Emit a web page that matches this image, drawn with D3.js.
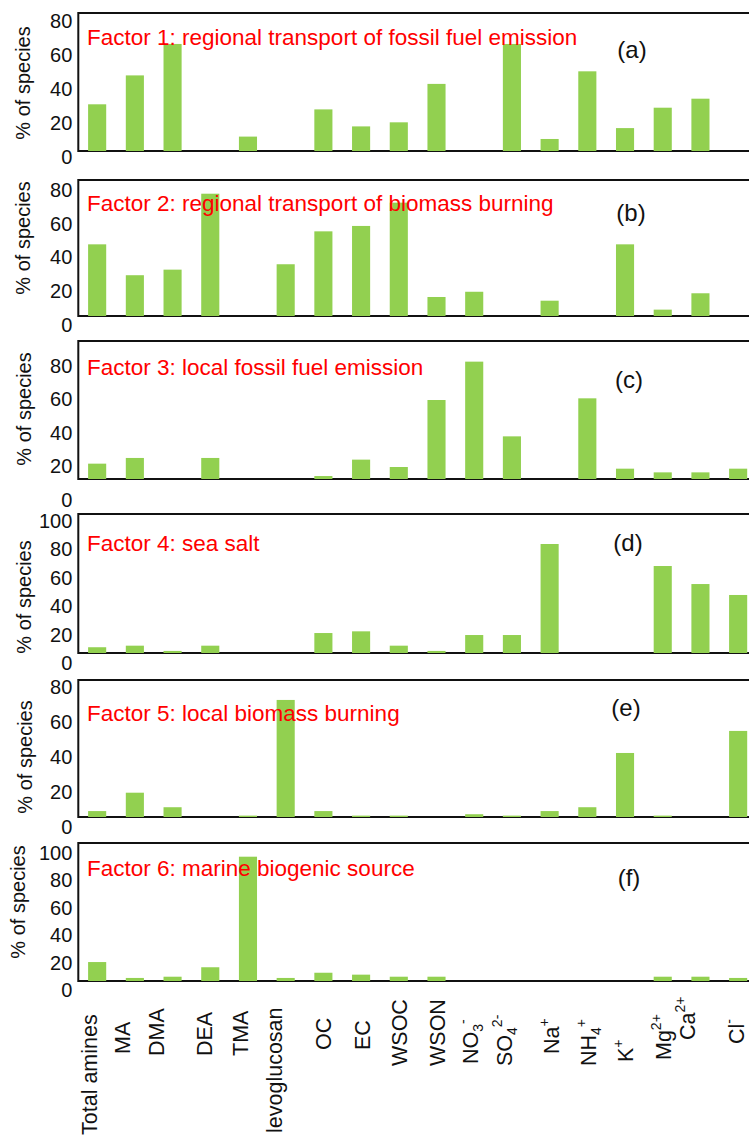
<!DOCTYPE html>
<html><head><meta charset="utf-8">
<script src="https://cdn.jsdelivr.net/npm/d3@7"></script>
<style>body{margin:0;background:#fff}svg{display:block}</style>
</head><body>
<script>
// ---------- data ----------
const categories = ["Total amines","MA","DMA","DEA","TMA","levoglucosan","OC","EC","WSOC","WSON",
  "NO_3^-","SO_4^2-","Na^+","NH_4^+","K^+","Mg^2+","Ca^2+","Cl^-"];
const factorTitles = [
  "Factor 1: regional transport of fossil fuel emission",
  "Factor 2: regional transport of biomass burning",
  "Factor 3: local fossil fuel emission",
  "Factor 4: sea salt",
  "Factor 5: local biomass burning",
  "Factor 6: marine biogenic source"];
const panelLetters = ["(a)","(b)","(c)","(d)","(e)","(f)"];
const factor1 = [31,48,66.5,0,12,0,28,18,20.4,43,0,66.5,10.6,50.4,17,29,34.3,0];
const factor2 = [47.8,29.5,32.8,77.8,0,36,55.5,58.7,72.5,16.6,19.7,0,14.4,0,47.8,9.1,18.8,0];
const factor3 = [21.7,25.1,0,25.1,0,0,14.3,24.1,19.7,59.7,82.6,38,0,60.7,18.7,16.5,16.5,18.7];
const factor4 = [11.1,12.2,8.5,12.2,0,0,21.1,22.3,12.2,8.5,19.7,19.7,83.8,0,0,68.3,55.6,47.9];
const factor5 = [9.1,19.6,11.3,0,6.5,72.6,9.1,6.5,6.5,0,7.3,6.5,9.1,11.3,42.3,6.5,0,54.9];
const factor6 = [20.4,8.8,9.7,16.6,97.3,8.8,12.6,11.2,9.7,9.7,0,0,0,0,0,9.7,9.7,8.8];
const yMaxes = [80,80,80,100,80,100];
const yTicks = [[0,20,40,60,80],[0,20,40,60,80],[0,20,40,60,80],[0,20,40,60,80,100],[0,20,40,60,80],[0,20,40,60,80,100]];
const yTitle = "% of species";
const series = [factor1,factor2,factor3,factor4,factor5,factor6];

// ---------- layout ----------
const W = 749, H = 1139;
const panels = [
  {top:13,  bottom:151, zeroY:157, maxY:21,  titleY:45,  letter:[632,50],  ytitle:[30,83]},
  {top:180, bottom:316, zeroY:325, maxY:190, titleY:211, letter:[631,213], ytitle:[30,238]},
  {top:341, bottom:479, zeroY:500, maxY:366, titleY:375, letter:[629,380], ytitle:[31,409]},
  {top:514, bottom:653, zeroY:663, maxY:521, titleY:551, letter:[628,543], ytitle:[31,597]},
  {top:680, bottom:817, zeroY:827, maxY:687, titleY:721, letter:[626,708], ytitle:[32,757]},
  {top:843, bottom:981, zeroY:990, maxY:853, titleY:876, letter:[629,878], ytitle:[25,902]}
];
const frameLeft = 78.3, frameRight = 757;
const labelDx = [-8,-12,-16,-6,-7,-11,0,1,1,1,-4,-7,2,1,0,1,-13,-2];
const labelBottom = [1135,1054,1056,1056,1056,1133,1050,1050,1066,1066,1064,1066,1054,1066,1062,1060,1040,1044];
const FONT = "'Liberation Sans', Arial, Helvetica, sans-serif";
const green = "#92d050";

const svg = d3.select("body").append("svg").attr("width",W).attr("height",H)
  .style("font-family",FONT);

const x = d3.scaleBand().domain(categories).range([frameLeft, frameRight])
  .paddingInner(0.52).paddingOuter(0.26);

panels.forEach((p,i)=>{
  const g = svg.append("g");
  const y = d3.scaleLinear().domain([0,yMaxes[i]]).range([p.zeroY,p.maxY]);
  g.append("rect").attr("x",frameLeft).attr("y",p.top)
    .attr("width",frameRight-frameLeft).attr("height",p.bottom-p.top)
    .attr("fill","none").attr("stroke","#111").attr("stroke-width",2);
  g.selectAll("rect.bar").data(series[i].map((v,j)=>({c:categories[j],v})))
    .join("rect").attr("class","bar")
    .attr("x",d=>x(d.c)).attr("width",x.bandwidth())
    .attr("y",d=>Math.min(y(d.v),p.bottom))
    .attr("height",d=>Math.max(0,p.bottom-y(d.v)))
    .attr("fill",green);
  const ax = g.append("g").attr("transform",`translate(${frameLeft-3},0)`)
    .call(d3.axisLeft(y).tickValues(yTicks[i]).tickSize(0).tickPadding(3).tickFormat(d3.format("d")));
  ax.select(".domain").remove();
  ax.selectAll("text").attr("font-size",20).attr("font-family",FONT).attr("fill","#111");
  g.append("text").attr("transform",`translate(${p.ytitle[0]},${p.ytitle[1]}) rotate(-90)`)
    .attr("text-anchor","middle").attr("font-size",20).attr("fill","#111").text(yTitle);
  g.append("text").attr("x",87).attr("y",p.titleY).attr("font-size",22.5)
    .attr("fill","#ff0000").text(factorTitles[i]);
  g.append("text").attr("x",p.letter[0]).attr("y",p.letter[1]+8).attr("text-anchor","middle")
    .attr("font-size",24).attr("fill","#111").text(panelLetters[i]);
});

function parts(s){
  const out=[]; const re=/([^_^]+)|_([^_^]+)|\^([^_^]+)/g; let m;
  while((m=re.exec(s))){ if(m[1]) out.push({t:m[1],k:0}); else if(m[2]) out.push({t:m[2],k:1}); else out.push({t:m[3],k:-1}); }
  return out;
}
categories.forEach((c,j)=>{
  const cx = x(c)+x.bandwidth()/2+labelDx[j];
  const t = svg.append("text")
    .attr("transform",`translate(${cx+7.5},${labelBottom[j]}) rotate(-90)`)
    .attr("font-size",21.5).attr("fill","#111");
  let shift=0;
  parts(c).forEach(pp=>{
    const target = pp.k===1?5:(pp.k===-1?-10:0);
    t.append("tspan").attr("dy",target-shift)
      .attr("font-size",pp.k===0?21.5:14).text(pp.t);
    shift=target;
  });
});
</script>
</body></html>
